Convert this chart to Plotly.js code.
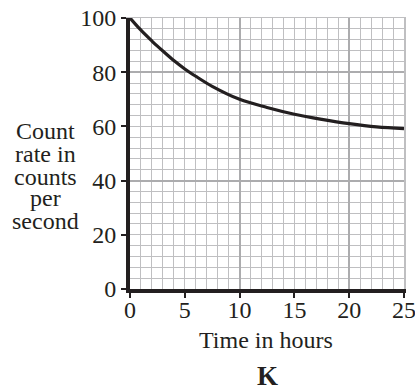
<!DOCTYPE html>
<html><head><meta charset="utf-8">
<script src="https://cdn.plot.ly/plotly-3.0.1.min.js"></script>
<style>html,body{margin:0;padding:0;background:#fff}</style>
</head><body><div id="chart" style="width:415px;height:392px"></div>
<script>
const timeHours = [0, 1, 2, 2.5, 3, 4, 5, 6, 7.5, 10, 12.5, 15, 17.5, 20, 22.5, 25];
const countRate = [100, 95.5, 91.5, 89.6, 87.8, 84.3, 81.2, 78.5, 74.8, 70, 67, 64.5, 62.6, 61, 59.8, 59.2];
const xTickVals = [0, 5, 10, 15, 20, 25];
const yTickVals = [0, 20, 40, 60, 80, 100];
const yTitleLines = ["Count", "rate in", "counts", "per", "second"];
const xTitleText = "Time in hours";
const captionText = "<b>K</b>";

const fam = "Liberation Serif, Times New Roman, serif";
const font = {family: fam, size: 24, color: "#231f20"};
const minorColor = "#bfbfc1";
const majorColor = "#acacae";

const data = [
  {x: timeHours, y: countRate, type: "scatter", mode: "lines",
   line: {color: "#231f20", width: 3.2, shape: "spline", smoothing: 1.0},
   xaxis: "x", yaxis: "y", hoverinfo: "none"},
  {x: [0, 25], y: [0, 100], type: "scatter", mode: "markers",
   marker: {opacity: 0}, xaxis: "x2", yaxis: "y2", hoverinfo: "none"}
];

const yTitleY = [0.583, 0.498, 0.413, 0.335, 0.251];
const annotations = yTitleLines.map((t, i) => ({
  text: t, xref: "paper", yref: "paper", x: -0.307, y: yTitleY[i], xanchor: "center", yanchor: "middle",
  showarrow: false, font: font
}));
annotations.push(
  {text: xTitleText, xref: "paper", yref: "paper", x: 0.496, y: -0.19, xanchor: "center", yanchor: "middle",
   showarrow: false, font: font},
  {text: captionText, xref: "paper", yref: "paper", x: 0.5, y: -0.322, xanchor: "center", yanchor: "middle",
   showarrow: false, font: {family: fam, size: 27, color: "#231f20"}}
);

const layout = {
  width: 415, height: 392,
  margin: {l: 130, r: 11, t: 18, b: 103},
  paper_bgcolor: "#fff", plot_bgcolor: "#fff",
  showlegend: false,
  font: font,
  xaxis: {range: [0, 25], tickvals: xTickVals, ticks: "outside", ticklen: 5, tickwidth: 2, tickcolor: "#231f20",
          showgrid: false, zeroline: false, showline: true, linewidth: 4, linecolor: "#231f20",
          tickfont: font, layer: "above traces", ticklabeloverflow: "allow", ticklabelstandoff: -9,
          minor: {dtick: 1, tick0: 0, showgrid: true, gridcolor: minorColor, gridwidth: 1, ticks: ""}},
  yaxis: {range: [0, 100], tickvals: yTickVals, ticks: "outside", ticklen: 5, tickwidth: 2, tickcolor: "#231f20",
          showgrid: false, zeroline: false, showline: true, linewidth: 4, linecolor: "#231f20",
          tickfont: font, layer: "above traces", ticklabeloverflow: "allow",
          minor: {dtick: 4, tick0: 0, showgrid: true, gridcolor: minorColor, gridwidth: 1, ticks: ""}},
  xaxis2: {range: [0, 25], overlaying: "x", side: "top", dtick: 10, tick0: 0, showticklabels: false, ticks: "",
           showgrid: true, gridcolor: majorColor, gridwidth: 2, zeroline: false,
           showline: true, linecolor: minorColor, linewidth: 1.5, layer: "below traces"},
  yaxis2: {range: [0, 100], overlaying: "y", side: "right", dtick: 40, tick0: 0, showticklabels: false, ticks: "",
           showgrid: true, gridcolor: majorColor, gridwidth: 2, zeroline: false,
           showline: true, linecolor: minorColor, linewidth: 1.5, layer: "below traces"},
  annotations: annotations
};

Plotly.newPlot("chart", data, layout, {staticPlot: true, displayModeBar: false});
</script></body></html>
